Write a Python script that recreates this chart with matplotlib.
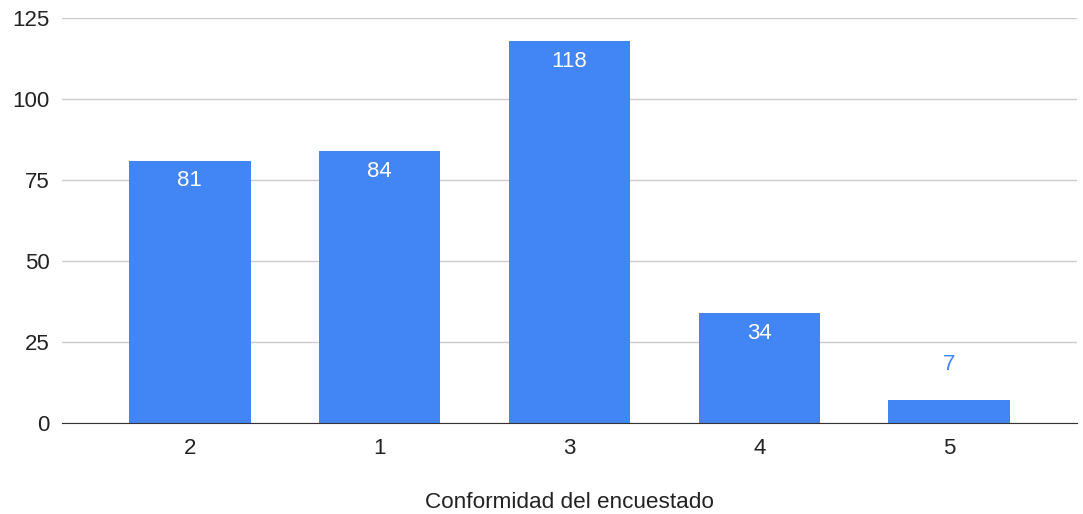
import matplotlib.pyplot as plt

plt.rcParams['font.family'] = ['Liberation Sans', 'DejaVu Sans']

categorias = ['2', '1', '3', '4', '5']
valores = [81, 84, 118, 34, 7]
yticks = [0, 25, 50, 75, 100, 125]

AZUL = '#4285F4'

fig = plt.figure(figsize=(10.83, 5.14), dpi=100)
ax = fig.add_axes([0.0572, 0.177, 0.9373, 0.788])

x = range(len(categorias))
bars = ax.bar(x, valores, width=0.64, color=AZUL, zorder=3)

# etiquetas de valor
for b, v in zip(bars, valores):
    cx = b.get_x() + b.get_width() / 2
    if v > 15:
        ax.text(cx, v - 6.3, str(v), ha='center', va='center', color='white', fontsize=16, zorder=4)
    else:
        ax.text(cx, v + 11, str(v), ha='center', va='center', color=AZUL, fontsize=16, zorder=4)

ax.set_xlim(-0.674, 4.674)
ax.set_ylim(0, 125)
ax.set_yticks(yticks)
ax.set_xticks(list(x))
ax.set_xticklabels(categorias)
ax.grid(axis='y', color='#cccccc', linewidth=1, zorder=0)
for s in ['top', 'right', 'left']:
    ax.spines[s].set_visible(False)
ax.spines['bottom'].set_color('#333333')
ax.spines['bottom'].set_zorder(5)
ax.tick_params(axis='y', length=0, labelsize=16, colors='#222222', pad=9)
ax.tick_params(axis='x', length=0, labelsize=16, colors='#222222', pad=11)
ax.set_xlabel('Conformidad del encuestado', fontsize=16.2, color='#222222', labelpad=23.5)

fig.savefig('out.png', dpi=100)
